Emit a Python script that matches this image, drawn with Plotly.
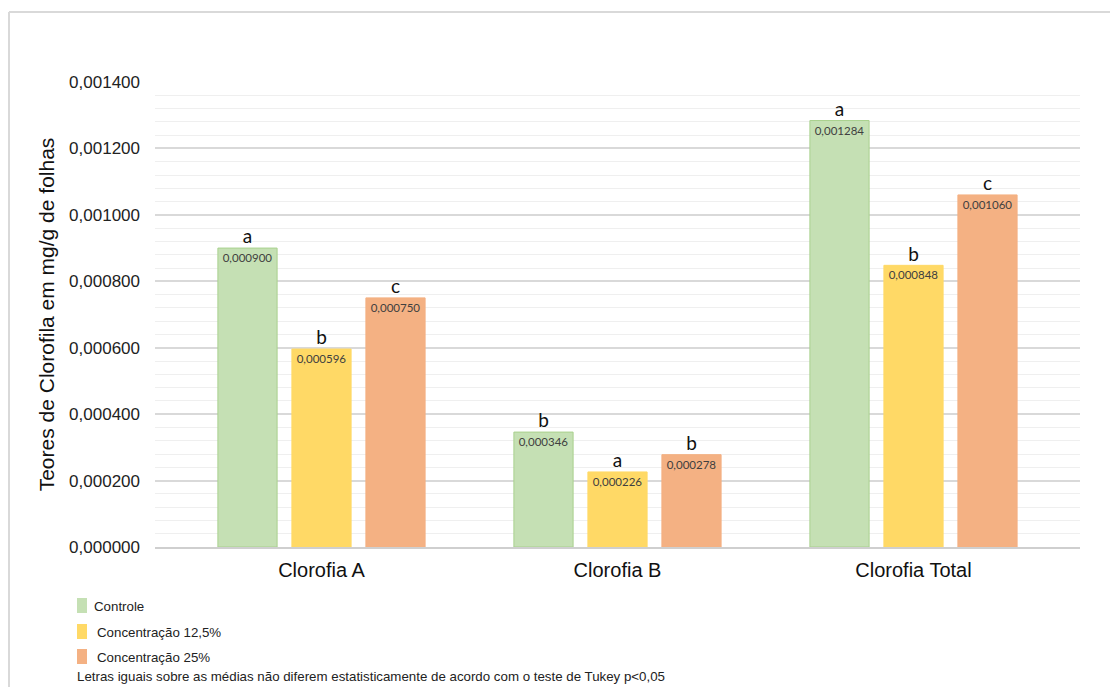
import plotly.graph_objects as go

# Chlorophyll content (mg/g of leaves) per treatment
categories = ["Clorofia A", "Clorofia B", "Clorofia Total"]
series_names = ["Controle", "Concentração 12,5%", "Concentração 25%"]
controle = [0.000900, 0.000346, 0.001284]
conc_12_5 = [0.000596, 0.000226, 0.000848]
conc_25 = [0.000750, 0.000278, 0.001060]
# Tukey grouping letters shown above each bar
letters_controle = ["a", "b", "a"]
letters_12_5 = ["b", "a", "b"]
letters_25 = ["c", "b", "c"]

series_values = [controle, conc_12_5, conc_25]
series_letters = [letters_controle, letters_12_5, letters_25]
colors = ["#C5E0B4", "#FFD966", "#F4B183"]
edge_colors = ["#A9D18E", "#FFD966", "#F4B183"]

W, H = 1110, 687
L, R, T, B = 155, 30, 82, 140
GAP = 0.25
PAD = 0.0625

fig = go.Figure()
for name, vals, col, edge in zip(series_names, series_values, colors, edge_colors):
    fig.add_trace(go.Bar(
        x=categories, y=vals, name=name,
        marker=dict(color=col, line=dict(color=edge, width=1)),
        texttemplate="%{y:.6f}", textposition="inside",
        insidetextanchor="end", textangle=0,
        textfont=dict(family="Lato", size=11.5, color="#404040"),
        constraintext="none", cliponaxis=False,
        showlegend=False, hoverinfo="skip",
    ))

for name, vals, lets in zip(series_names, series_values, series_letters):
    fig.add_trace(go.Scatter(
        x=categories, y=vals, text=lets, mode="text",
        textposition="top center",
        textfont=dict(family="Lato", size=19, color="#111111"),
        showlegend=False, hoverinfo="skip", cliponaxis=False,
    ))

pw, ph = W - L - R, H - T - B


def px_x(x):
    return (x - L) / pw


def px_y(y):
    return (H - B - y) / ph


shapes = [
    # frame lines (top and left)
    dict(type="line", xref="paper", yref="paper", x0=px_x(9), x1=px_x(W), y0=px_y(12), y1=px_y(12),
         line=dict(color="#D9D9D9", width=2)),
    dict(type="line", xref="paper", yref="paper", x0=px_x(9), x1=px_x(9), y0=px_y(12), y1=px_y(H),
         line=dict(color="#D9D9D9", width=2)),
]
annotations = []
legend_rows = [606, 632, 657]
legend_text_x = [92, 95, 95]
for name, col, yy, tx in zip(series_names, colors, legend_rows, legend_text_x):
    shapes.append(dict(type="rect", xref="paper", yref="paper",
                       x0=px_x(77), x1=px_x(87), y0=px_y(yy - 8), y1=px_y(yy + 7),
                       fillcolor=col, line=dict(width=0)))
    annotations.append(dict(text=name, xref="paper", yref="paper", x=px_x(tx), y=px_y(yy),
                            xanchor="left", yanchor="middle", showarrow=False,
                            font=dict(family="Liberation Sans", size=13.3, color="#222222")))
annotations.append(dict(
    text="Letras iguais sobre as médias não diferem estatisticamente de acordo com o teste de Tukey p<0,05",
    xref="paper", yref="paper", x=px_x(75), y=px_y(676), xanchor="left", yanchor="middle",
    showarrow=False, font=dict(family="Liberation Sans", size=13.3, color="#222222")))

fig.update_layout(
    width=W, height=H,
    margin=dict(l=L, r=R, t=T, b=B),
    paper_bgcolor="white", plot_bgcolor="white",
    barmode="group", bargap=GAP, bargroupgap=0.2,
    scattermode="group", scattergap=GAP,
    separators=",.",
    font=dict(family="Liberation Sans", color="#222222"),
    shapes=shapes, annotations=annotations,
    xaxis=dict(
        range=[-0.5 - PAD, len(categories) - 0.5 + PAD],
        showline=True, linecolor="#CFCFCF", linewidth=1.5,
        tickfont=dict(size=20, color="#111111"), ticks="", showgrid=False,
        ticklabelstandoff=4, fixedrange=True,
    ),
    yaxis=dict(
        range=[0, 0.0014], dtick=0.0002, tickformat=".6f",
        tickfont=dict(size=17, color="#222222"),
        showgrid=True, gridcolor="#D9D9D9", gridwidth=1.5,
        zeroline=False, showline=False, ticks="", ticklabelstandoff=14,
        minor=dict(dtick=0.00004, showgrid=True, gridcolor="#EFEFEF", gridwidth=1),
        title=dict(text="Teores de Clorofila em mg/g de folhas",
                   font=dict(size=21, color="#111111"), standoff=8),
    ),
)

fig.write_html("out.html")
